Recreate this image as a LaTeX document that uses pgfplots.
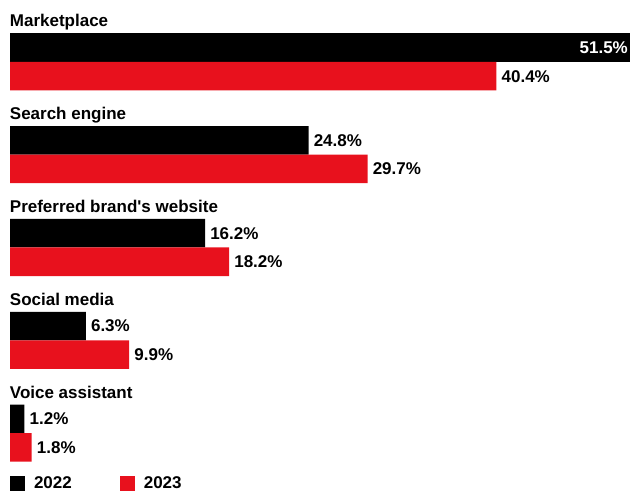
\documentclass[border=0pt]{standalone}
\usepackage{fontspec}
\setmainfont{Liberation Sans}
\usepackage{pgfplots}
\pgfplotsset{compat=1.18}
\definecolor{myred}{RGB}{232,17,29}
\begin{document}
\begin{tikzpicture}
\useasboundingbox (0,0) rectangle (630pt,491pt);
\begin{axis}[
  at={(0pt,0pt)}, anchor=south west,
  scale only axis, width=630pt, height=491pt,
  xmin=-0.8306, xmax=51.495, ymin=-491, ymax=0,
  xbar, bar shift=0pt, bar width=28.5,
  axis line style={draw=none}, tick style={draw=none},
  xtick=\empty,
  ytick={-27,-119.75,-212.5,-305.25,-398},
  yticklabels={Marketplace,Search engine,Preferred brand\textquotesingle s website,Social media,Voice assistant},
  yticklabel style={anchor=base west, inner sep=0pt, xshift=14pt, font=\fontsize{17}{20}\selectfont\bfseries},
  clip=false,
  point meta=x,
  /pgf/number format/assume math mode=true,
  nodes near coords={\pgfmathprintnumber[fixed,fixed zerofill,precision=1]{\pgfplotspointmeta}\%},
  every node near coord/.append style={anchor=west, inner sep=0pt, xshift=5pt, font=\fontsize{17}{20}\selectfont\bfseries, text=black},
  legend style={draw=none, fill=none, inner sep=0pt, outer sep=0pt,
    at={(10pt,16pt)}, anchor=north west, legend columns=2,
    font=\fontsize{17}{20}\selectfont\bfseries,
    /tikz/every odd column/.append style={column sep=7pt},
    /tikz/every even column/.append style={column sep=46pt},
    legend cell align=left},
  legend image code/.code={\fill[#1] (0pt,-7pt) rectangle (15pt,8pt);},
]
\addplot[fill=black, draw=none, forget plot, every node near coord/.append style={anchor=east, xshift=-7pt, text=white}] coordinates {(51.5,-47.75)};
\addplot[fill=black, draw=none] coordinates {(24.8,-140.5) (16.2,-233.25) (6.3,-326) (1.2,-418.75)};
\addplot[fill=myred, draw=none] coordinates {(40.4,-76.25) (29.7,-169) (18.2,-261.75) (9.9,-354.5) (1.8,-447.25)};
\legend{2022,2023}
\end{axis}
\end{tikzpicture}
\end{document}
